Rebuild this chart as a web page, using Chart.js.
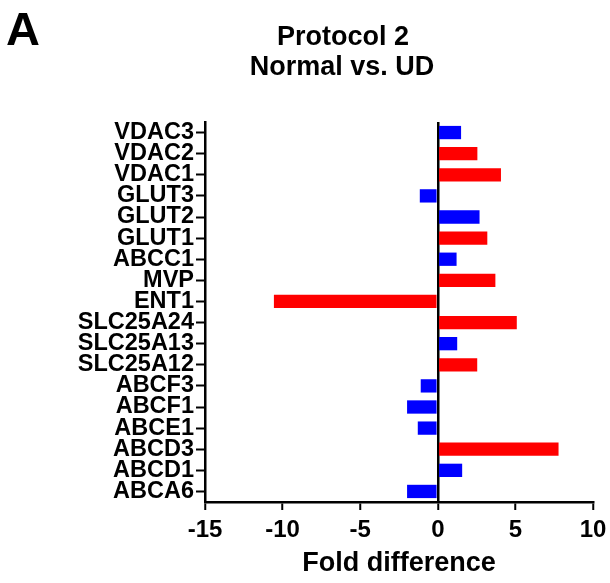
<!DOCTYPE html>
<html>
<head>
<meta charset="utf-8">
<style>
  html, body { margin: 0; padding: 0; background: #fff }
  #chart { display: block }
</style>
<script src="https://cdn.jsdelivr.net/npm/chart.js@4/dist/chart.umd.min.js"></script>
</head>
<body>
<canvas id="chart" width="610" height="583"></canvas>
<script>
// genes, top to bottom
var genes = ['VDAC3', 'VDAC2', 'VDAC1', 'GLUT3', 'GLUT2', 'GLUT1', 'ABCC1', 'MVP', 'ENT1',
  'SLC25A24', 'SLC25A13', 'SLC25A12', 'ABCF3', 'ABCF1', 'ABCE1', 'ABCD3', 'ABCD1', 'ABCA6']

// fold difference, split by the two bar groups (null = no bar in that group)
var redSet = [null, 2.55, 4.07, null, null, 3.19, null, 3.71, -10.56,
  5.09, null, 2.54, null, null, null, 7.78, null, null]
var blueSet = [1.5, null, null, -1.16, 2.69, null, 1.21, null, null,
  null, 1.25, null, -1.1, -1.98, -1.29, null, 1.57, -1.98]

var xTicks = [-15, -10, -5, 0, 5, 10]
var panelLetter = 'A'
var titleLines = ['Protocol 2', 'Normal vs. UD']
var xTitle = 'Fold difference'

var FONT = "'Liberation Sans', Arial, Helvetica, sans-serif"

var headerPlugin = {
  id: 'header',
  afterDraw: function (chart) {
    var ctx = chart.ctx
    ctx.save()
    ctx.fillStyle = '#000'
    ctx.textBaseline = 'alphabetic'
    ctx.textAlign = 'left'
    ctx.font = 'bold 47px ' + FONT
    ctx.fillText(panelLetter, 6, 45)
    ctx.textAlign = 'center'
    ctx.font = 'bold 27px ' + FONT
    ctx.fillText(titleLines[0], 343, 45)
    ctx.fillText(titleLines[1], 342, 75)
    ctx.restore()
  }
}

var chart = new Chart(document.getElementById('chart'), {
  type: 'bar',
  data: {
    labels: genes,
    datasets: [
      { data: redSet, backgroundColor: '#ff0000', borderWidth: 0 },
      { data: blueSet, backgroundColor: '#0000ff', borderWidth: 0 }
    ]
  },
  options: {
    indexAxis: 'y',
    responsive: false,
    animation: false,
    devicePixelRatio: 1,
    grouped: false,
    skipNull: true,
    barPercentage: 0.63,
    categoryPercentage: 1,
    layout: { padding: { top: 122, right: 17, left: 0, bottom: 0 } },
    plugins: {
      legend: { display: false },
      tooltip: { enabled: false }
    },
    scales: {
      x: {
        type: 'linear',
        min: -15,
        max: 10,
        afterBuildTicks: function (scale) {
          scale.ticks = xTicks.map(function (v) { return { value: v } })
        },
        afterFit: function (scale) {
          scale.height = 81
          // keep the plot's right edge where the reference has it
          scale.paddingRight = 0
        },
        border: { color: '#000', width: 2.5 },
        grid: {
          drawOnChartArea: true,
          color: function (c) { return c.tick && c.tick.value === 0 ? '#000' : 'rgba(0,0,0,0)' },
          lineWidth: 2.5,
          tickColor: '#000',
          tickWidth: 2,
          tickLength: 8
        },
        ticks: {
          color: '#000',
          padding: 6,
          maxRotation: 0,
          font: { family: FONT, size: 24, weight: 'bold' }
        },
        title: {
          display: true,
          text: xTitle,
          color: '#000',
          padding: { top: 0, bottom: 3 },
          font: { family: FONT, size: 27, weight: 'bold' }
        }
      },
      y: {
        afterFit: function (scale) { scale.width = 205 },
        border: { color: '#000', width: 2.5 },
        grid: {
          offset: false,
          drawOnChartArea: false,
          tickColor: '#000',
          tickWidth: 2,
          tickLength: 9
        },
        ticks: {
          color: '#000',
          padding: 2,
          autoSkip: false,
          font: { family: FONT, size: 23.5, weight: 'bold' }
        }
      }
    }
  },
  plugins: [headerPlugin]
})
</script>
</body>
</html>
